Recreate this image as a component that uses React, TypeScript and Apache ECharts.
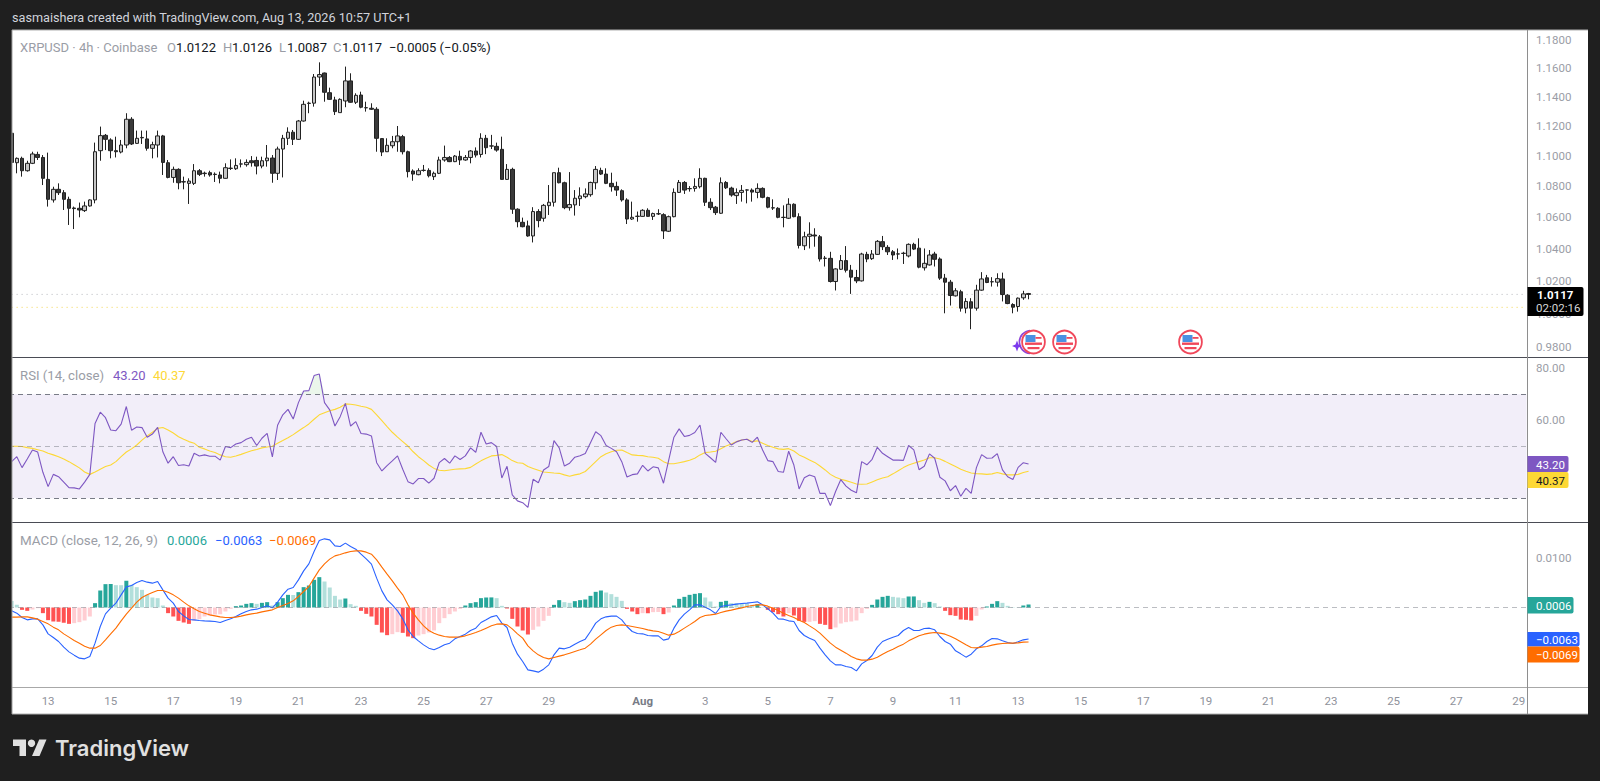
import React, { useEffect, useRef } from "react";
import * as echarts from "echarts";

const CHART_TITLE = "sasmaishera created with TradingView.com, Aug 13, 2026 10:57 UTC+1";
const PRICE_TICKS = [1.18, 1.16, 1.14, 1.12, 1.1, 1.08, 1.06, 1.04, 1.02, 1.0, 0.98];
const RSI_TICKS = [80, 60];
const MACD_TICKS = [0.01];
const TIME_LABELS = ["13","15","17","19","21","23","25","27","29","Aug","3","5","7","9","11","13","15","17","19","21","23","25","27","29"];
const TIME_LABEL_SLOTS = [7,19,31,43,55,67,79,91,103,121,133,145,157,169,181,193,205,217,229,241,253,265,277,289];
const SLOT_COUNT = 291;
const LAST_PRICE = 1.0117;
const DRAWN_LEVEL = 1.0038;

// [open, close, low, high]
const candlesA = [
[1.1153,1.0958,1.0952,1.1164],[1.0956,1.0985,1.0886,1.0991],[1.0985,1.0903,1.0864,1.0996],[1.0903,1.0952,1.0897,1.0969],[1.0952,1.1014,1.0947,1.1029],
[1.1011,1.0991,1.0974,1.1029],[1.0991,1.0853,1.0809,1.1007],[1.0846,1.0716,1.0669,1.1023],[1.0712,1.0781,1.0695,1.0798],[1.0781,1.0759,1.0744,1.0820],
[1.0759,1.0716,1.0647,1.0776],[1.0716,1.0658,1.0551,1.0733],[1.0660,1.0656,1.0525,1.0669],[1.0658,1.0647,1.0600,1.0695],[1.0643,1.0673,1.0634,1.0701],
[1.0673,1.0712,1.0669,1.0716],[1.0712,1.1029,1.0690,1.1090],[1.1036,1.1137,1.0969,1.1198],[1.1139,1.1112,1.1040,1.1148],[1.1108,1.1036,1.0985,1.1119],
[1.1036,1.1029,1.0991,1.1130],[1.1027,1.1074,1.1018,1.1108],[1.1074,1.1248,1.1052,1.1289],[1.1248,1.1081,1.1074,1.1262],[1.1085,1.1119,1.1081,1.1171],
[1.1125,1.1122,1.1081,1.1171],[1.1115,1.1052,1.1036,1.1171],[1.1052,1.1076,1.0985,1.1096],[1.1074,1.1135,1.0991,1.1171],[1.1135,1.0958,1.0875,1.1142],
[1.0956,1.0859,1.0853,1.0974],[1.0859,1.0912,1.0824,1.0930],[1.0912,1.0824,1.0781,1.0919],[1.0831,1.0829,1.0781,1.0864],[1.0820,1.0835,1.0686,1.0853],
[1.0820,1.0903,1.0809,1.0947],[1.0903,1.0879,1.0868,1.0914],[1.0887,1.0884,1.0864,1.0897],[1.0890,1.0875,1.0864,1.0903],[1.0880,1.0878,1.0829,1.0892],
[1.0875,1.0853,1.0820,1.0897],[1.0853,1.0923,1.0851,1.0952],[1.0920,1.0918,1.0908,1.0978],[1.0916,1.0938,1.0908,1.0985],[1.0948,1.0947,1.0925,1.0978],
[1.0943,1.0958,1.0930,1.0978],[1.0969,1.0956,1.0930,1.1000],[1.0971,1.0934,1.0879,1.0996],[1.0934,1.0969,1.0919,1.0996],[1.0969,1.0987,1.0930,1.1074],
[1.0987,1.0886,1.0824,1.1007],[1.0886,1.1047,1.0842,1.1063],[1.1047,1.1119,1.0859,1.1142],[1.1119,1.1160,1.1074,1.1193],[1.1160,1.1112,1.1074,1.1175],
[1.1112,1.1236,1.1108,1.1243],[1.1236,1.1350,1.1232,1.1375],[1.1358,1.1356,1.1289,1.1368],[1.1358,1.1539,1.1334,1.1560],[1.1539,1.1556,1.1477,1.1642],
[1.1567,1.1433,1.1368,1.1570],[1.1430,1.1384,1.1380,1.1465],[1.1380,1.1300,1.1277,1.1402],[1.1293,1.1384,1.1293,1.1391],[1.1373,1.1512,1.1330,1.1612],
[1.1512,1.1364,1.1361,1.1565],[1.1364,1.1412,1.1352,1.1426],[1.1414,1.1330,1.1323,1.1437],[1.1327,1.1326,1.1300,1.1368],[1.1323,1.1316,1.1311,1.1357],
[1.1316,1.1119,1.1029,1.1330],[1.1117,1.1027,1.1000,1.1119],[1.1029,1.1072,1.1027,1.1119],[1.1069,1.1096,1.1052,1.1135],[1.1096,1.1135,1.1029,1.1202],
];
const candlesB = [
[1.1130,1.1029,1.1011,1.1142],[1.1029,1.0897,1.0859,1.1036],[1.0901,1.0881,1.0837,1.0912],[1.0877,1.0903,1.0873,1.0919],[1.0906,1.0905,1.0897,1.0941],
[1.0905,1.0870,1.0859,1.0919],[1.0864,1.0886,1.0842,1.0897],[1.0886,1.0974,1.0881,1.0996],[1.0974,1.0991,1.0963,1.1070],[1.0991,1.0963,1.0960,1.1000],
[1.0963,1.1000,1.0960,1.1007],[1.0998,1.0974,1.0941,1.1036],[1.0974,1.0991,1.0969,1.1007],[1.0991,1.1034,1.0952,1.1040],[1.1034,1.1007,1.0991,1.1058],
[1.1011,1.1119,1.0991,1.1153],[1.1119,1.1056,1.1013,1.1142],[1.1068,1.1067,1.1047,1.1142],[1.1065,1.1040,1.1029,1.1090],[1.1045,1.0846,1.0846,1.1130],
[1.0846,1.0912,1.0842,1.0947],[1.0912,1.0652,1.0622,1.0923],[1.0652,1.0572,1.0536,1.0658],[1.0568,1.0540,1.0536,1.0598],[1.0545,1.0481,1.0476,1.0579],
[1.0481,1.0637,1.0440,1.0665],[1.0637,1.0579,1.0536,1.0652],[1.0594,1.0677,1.0572,1.0686],[1.0675,1.0697,1.0615,1.0809],[1.0697,1.0890,1.0669,1.0890],
[1.0890,1.0824,1.0820,1.0923],[1.0824,1.0662,1.0652,1.0831],[1.0662,1.0682,1.0643,1.0894],[1.0680,1.0723,1.0611,1.0776],[1.0720,1.0738,1.0673,1.0794],
[1.0733,1.0751,1.0723,1.0787],[1.0746,1.0826,1.0733,1.0831],[1.0824,1.0912,1.0781,1.0934],[1.0905,1.0881,1.0875,1.0923],[1.0881,1.0820,1.0815,1.0919],
[1.0820,1.0798,1.0766,1.0890],[1.0800,1.0776,1.0738,1.0831],[1.0772,1.0712,1.0701,1.0781],[1.0712,1.0589,1.0557,1.0723],[1.0589,1.0600,1.0583,1.0701],
[1.0607,1.0606,1.0572,1.0637],[1.0606,1.0645,1.0604,1.0652],[1.0645,1.0606,1.0604,1.0658],[1.0606,1.0624,1.0583,1.0630],[1.0623,1.0622,1.0615,1.0652],
[1.0617,1.0513,1.0462,1.0626],[1.0511,1.0604,1.0506,1.0611],[1.0604,1.0761,1.0600,1.0787],[1.0761,1.0826,1.0757,1.0842],[1.0826,1.0776,1.0751,1.0835],
[1.0786,1.0785,1.0766,1.0802],[1.0787,1.0800,1.0766,1.0853],[1.0798,1.0853,1.0787,1.0919],[1.0853,1.0697,1.0673,1.0857],[1.0697,1.0662,1.0647,1.0723],
[1.0665,1.0630,1.0615,1.0673],[1.0626,1.0824,1.0622,1.0859],[1.0826,1.0791,1.0783,1.0835],[1.0789,1.0744,1.0733,1.0798],[1.0740,1.0759,1.0686,1.0787],
[1.0761,1.0774,1.0701,1.0809],[1.0777,1.0776,1.0690,1.0781],[1.0776,1.0763,1.0701,1.0787],[1.0761,1.0787,1.0723,1.0820],[1.0787,1.0729,1.0723,1.0794],
[1.0727,1.0665,1.0658,1.0733],[1.0661,1.0660,1.0647,1.0716],[1.0658,1.0600,1.0594,1.0665],[1.0600,1.0599,1.0536,1.0677],[1.0594,1.0684,1.0589,1.0723],
[1.0684,1.0604,1.0600,1.0690],[1.0604,1.0421,1.0402,1.0626],
];
const candlesC = [
[1.0419,1.0476,1.0392,1.0508],[1.0479,1.0492,1.0402,1.0568],[1.0487,1.0481,1.0413,1.0530],[1.0476,1.0336,1.0320,1.0487],[1.0341,1.0340,1.0289,1.0355],
[1.0340,1.0196,1.0190,1.0381],[1.0196,1.0274,1.0141,1.0278],[1.0272,1.0326,1.0268,1.0361],[1.0326,1.0266,1.0252,1.0417],[1.0266,1.0223,1.0120,1.0299],
[1.0221,1.0200,1.0186,1.0268],[1.0200,1.0367,1.0196,1.0375],[1.0365,1.0336,1.0316,1.0381],[1.0338,1.0367,1.0330,1.0392],[1.0365,1.0447,1.0361,1.0455],
[1.0445,1.0413,1.0392,1.0481],[1.0409,1.0381,1.0361,1.0423],[1.0381,1.0361,1.0330,1.0392],[1.0368,1.0367,1.0334,1.0402],[1.0372,1.0371,1.0305,1.0381],
[1.0355,1.0428,1.0346,1.0434],[1.0428,1.0398,1.0392,1.0438],[1.0404,1.0285,1.0278,1.0466],[1.0281,1.0309,1.0264,1.0402],[1.0299,1.0361,1.0295,1.0392],
[1.0367,1.0334,1.0289,1.0381],[1.0336,1.0217,1.0206,1.0346],[1.0217,1.0192,1.0002,1.0243],[1.0192,1.0110,1.0049,1.0206],[1.0108,1.0139,1.0104,1.0155],
[1.0133,1.0033,1.0012,1.0145],[1.0033,1.0074,1.0002,1.0094],[1.0072,1.0033,0.9906,1.0094],[1.0033,1.0143,1.0018,1.0176],[1.0143,1.0212,1.0139,1.0254],
[1.0219,1.0190,1.0186,1.0237],[1.0195,1.0194,1.0165,1.0223],[1.0192,1.0214,1.0165,1.0247],[1.0212,1.0116,1.0074,1.0251],[1.0112,1.0061,1.0057,1.0118],
[1.0055,1.0039,1.0002,1.0063],[1.0043,1.0094,1.0012,1.0098],[1.0096,1.0120,1.0084,1.0139],[1.0122,1.0117,1.0087,1.0126],
];

const rsiValues = [
44.1,46.0,41.8,45.1,48.6,47.8,40.0,34.5,39.2,38.3,
36.2,34.1,34.0,33.6,36.2,39.2,58.8,63.1,61.0,56.3,
56.0,58.5,65.3,56.2,57.4,57.2,53.5,54.7,57.3,47.9,
43.5,46.0,42.6,42.9,42.4,47.3,46.3,46.7,46.2,46.2,
44.7,49.9,49.5,50.9,51.4,52.7,53.5,50.3,53.1,55.0,
45.9,58.1,62.1,64.2,60.5,66.8,71.3,71.4,77.2,77.8,
66.8,64.0,57.8,61.4,66.5,57.8,59.5,54.9,54.7,54.0,
43.7,40.5,42.6,44.4,46.3,41.2,36.4,35.5,37.6,37.6,
35.8,37.7,43.7,45.3,43.5,46.3,44.9,46.3,49.4,47.7,
55.4,50.9,51.4,49.9,37.8,42.3,31.3,29.0,28.3,26.5,
37.3,36.0,40.9,42.2,52.2,49.4,42.4,43.5,45.8,46.4,
47.2,51.4,55.6,54.1,50.3,49.2,47.9,44.1,38.2,39.1,
39.4,42.7,40.5,42.1,41.7,35.8,44.7,53.5,56.7,53.8,
54.2,55.3,58.2,47.3,45.6,43.8,55.4,52.9,50.5,51.7,
52.4,52.7,51.5,53.5,48.6,44.5,44.1,40.3,40.0,48.1,
42.8,33.6,37.9,39.0,38.3,31.9,31.9,27.2,32.6,37.2,
34.7,33.1,32.1,44.1,42.9,45.0,49.6,47.3,46.0,44.7,
44.7,44.6,50.3,48.6,41.0,42.3,47.1,45.4,38.1,36.7,
32.9,34.9,30.8,33.8,31.9,41.8,46.8,45.4,45.5,47.2,
40.9,38.3,37.2,41.9,43.7,43.2,
];
const rsiAverage = [
50.0,50.0,49.9,49.5,49.2,48.7,48.2,47.3,46.7,46.0,
45.1,44.1,42.9,41.7,40.1,39.2,40.1,41.2,42.2,42.8,
44.1,46.0,47.8,49.0,50.5,52.4,54.0,55.4,56.9,57.2,
56.3,55.1,53.7,52.7,51.8,51.2,49.6,49.0,48.2,47.6,
46.7,46.0,45.8,46.3,46.9,47.6,48.3,48.8,49.4,49.7,
50.0,51.2,52.2,53.3,54.5,55.9,57.2,58.6,60.4,62.1,
62.9,63.7,64.2,65.0,66.3,66.2,65.9,65.4,65.0,64.2,
62.1,59.9,57.6,55.4,53.5,51.8,50.1,47.9,46.0,44.5,
42.8,41.5,40.8,40.6,40.9,41.2,41.3,41.4,41.9,43.2,
44.4,45.4,46.3,46.5,46.8,45.8,44.5,43.7,43.5,42.2,
41.5,40.8,40.1,39.9,39.7,39.6,39.0,38.5,39.0,39.4,
40.3,42.2,44.1,46.0,47.1,47.9,48.5,48.6,47.6,46.7,
46.5,46.4,46.0,45.8,45.4,44.1,43.3,43.3,43.7,44.1,
44.6,45.4,46.7,47.6,47.8,48.1,49.1,50.1,50.9,51.8,
52.4,52.7,51.8,52.1,51.2,50.3,49.6,49.0,48.8,49.1,
48.2,46.7,45.8,44.7,43.8,42.4,40.9,39.2,38.1,37.3,
36.8,36.2,35.5,35.4,35.5,36.3,37.1,37.8,38.3,39.4,
40.6,41.8,42.8,43.5,44.1,44.7,45.6,45.6,45.1,44.2,
43.2,42.2,41.2,40.4,39.7,39.5,39.4,39.2,39.4,39.9,
39.4,39.0,39.0,39.2,39.9,40.37,
];

// MACD pane values, in units of 0.0001
const histogram = [
13,5.3,-4.7,-6.7,-4,-1.3,-11.3,-25.3,-28,-28.5,
-30.7,-32.7,-31.3,-29.3,-26,-18,8.7,34,46.7,47,
44.7,44.6,53.3,45.3,40.7,35.3,25.3,20,18.7,4,
-11.3,-18,-26.7,-30,-32.7,-26.7,-23.3,-18,-16.7,-14,
-13.5,-8,-2.7,2.7,4,7.3,8.7,7.3,9.3,10.7,
4,10.7,18.7,25.3,25,30.7,40.7,44,55.3,60.7,
52,40,23.3,16,18,6.7,3.3,-6.7,-12.7,-18,
-34.7,-50,-55.3,-53.3,-49.3,-50.7,-58,-61.3,-56,-53.3,
-50,-46,-31.3,-21.3,-13.3,-8,-2.7,4,8.7,10.7,
18.7,20,20.2,18.7,3.3,-2,-22.7,-38,-46,-54,
-44.7,-38,-26.7,-16.7,5.3,14.7,10.7,9.3,12.7,14.7,
16,23.3,31.3,34,30,26.7,21.3,13.3,-2.7,-8,
-13.3,-11.3,-11.5,-9.3,-9,-13.3,-10,4,17.3,21.3,
25.3,27.3,28.7,20,12,2,11.3,13.3,8.7,8.6,
8.5,8,5.3,6.7,0.5,-4.7,-9.3,-13.3,-18,-11.3,
-16,-26.7,-28.7,-28.6,-27.3,-32.7,-34.7,-43.3,-40,-32,
-29.3,-28,-26,-11.3,-2.7,5.3,16,21.3,23.3,21.3,
20,18.7,22,22.1,14.7,9.3,11.3,8.7,2,-6.7,
-15.3,-16.7,-24,-24.7,-26,-16.7,-4,2,7.3,12.7,
9.3,3.3,0.7,0.5,4,6,
];
const macdLine = [
-6.7,-11.3,-20,-24.7,-22.7,-22.7,-34.7,-52.7,-60,-68,
-79.3,-88.7,-95.3,-101.3,-102.7,-98,-71.3,-38,-12.7,-1.3,
8.7,25.3,41.3,44,50,54,50.7,48.7,52,35.3,
18.7,8.7,-8,-16.7,-24,-24.7,-26,-26.7,-27.3,-28,
-30,-26,-22.7,-18,-12.7,-8,-4.7,-3.3,0,3.3,
-0.7,10.7,25.3,36.7,40,55.3,73.3,87.3,112,134,
137.3,135.3,123.3,122,128.7,122,116.7,106.7,97.3,86.7,
58.7,33.3,15.3,5.3,-6.7,-22.7,-44.7,-58,-66.7,-74.7,
-81.3,-84.7,-80,-74.7,-71.3,-62.7,-58,-53.3,-46,-41.3,
-30,-24.7,-18.7,-16,-31.3,-40,-71.3,-93.3,-108,-124.7,
-126.7,-129.3,-123.3,-114.7,-94.7,-81.3,-82.7,-79.3,-73.3,-68,
-63.3,-48,-31.3,-22.7,-18.7,-17.3,-17.3,-24.7,-38,-48,
-52,-52.7,-56,-56.7,-56.7,-65.3,-62.7,-41.3,-24.7,-13.3,
-4.7,5.3,5.3,0.7,-4.7,-12,2,4,5.3,6.7,
8,8.7,10,11.3,5.3,-2.7,-11.3,-22.7,-23.3,-26.7,
-28,-46,-56,-61.3,-66,-81.3,-94.7,-106.7,-114.7,-114.7,
-118,-120,-126.7,-112.7,-106,-96,-79.3,-68,-63.3,-59.3,
-56,-46,-40,-46,-46,-42,-41.3,-44.7,-58,-68,
-73.3,-86.7,-92.7,-99.3,-93.3,-82.7,-76.7,-68,-62,-62.7,
-66.7,-70,-72,-68.7,-64.7,-63,
];
const signalLine = [
-19.3,-19.3,-18.7,-18.7,-20.7,-23.3,-28,-32.7,-39.3,-44.7,
-52.7,-59.3,-66,-71.3,-77.3,-81.3,-81.3,-76,-64.7,-52.7,
-41.3,-26.7,-13.3,-1.3,10.7,20,25.3,30,34,34,
30.7,25.3,18.7,10.7,3.3,-2.7,-8,-11.3,-14.7,-16.7,
-18.7,-20,-20,-19.3,-17.3,-14.7,-12.7,-11.3,-8.7,-6.7,
-4.7,0,4,8,13.3,22,32,42,58.7,75.3,
87.3,96.7,103.3,106,109.3,112,113.3,113.3,110.7,106.7,
95.3,80.7,66.7,53.3,38.7,25.3,5.3,-11.3,-24.7,-36.7,
-46,-51.3,-55.3,-58,-59.3,-59.3,-58.7,-56.7,-53.3,-50,
-46,-41.3,-36.7,-33.3,-32.7,-34.7,-42.7,-52.7,-61.3,-76.7,
-86.7,-94.7,-100,-102.7,-100,-97.3,-94.7,-91.3,-88,-84.7,
-81.3,-73.3,-63.3,-54.7,-46,-39.3,-36,-34.7,-36,-38,
-40,-42,-44.7,-46.7,-48,-51.3,-55.3,-53.3,-48,-41.3,
-34.7,-28,-20,-16,-14.7,-13.3,-10,-7.3,-5.3,-2.7,
-0.7,2,4,5.3,5.3,2.7,-1.3,-6,-11.3,-16,
-20,-25.3,-30,-36.7,-43.3,-51.3,-61.3,-71.3,-79.3,-85.3,
-91.3,-98,-102.7,-105.3,-105.3,-103.3,-99.3,-93.3,-88,-83.3,
-78,-73.3,-66.7,-61.3,-56.7,-53.3,-51.3,-50,-51.3,-53.3,
-57.3,-62.7,-68.7,-74.7,-80,-80.7,-79.3,-78,-75.3,-73.3,
-72,-71.3,-71.3,-70.7,-69.3,-69,
];

const FONT = "Roboto, 'Noto Sans', sans-serif";
const DARK = "#1f1f1f";
const GRAY = "#9a9da6";
const INK = "#131722";
const GRID_LEFT = 9;
const GRID_W = 1517.6;

const categories = Array.from({ length: SLOT_COUNT }, (_, i) => String(i));
const slotLabel: Record<string, string> = {};
TIME_LABEL_SLOTS.forEach((s, i) => { slotLabel[String(s)] = TIME_LABELS[i]; });

function txt(x: number, y: number, text: string, fill: string, size = 13, extra: any = {}) {
  return {
    type: "text", x, y, z: 60, silent: true,
    style: { text, fill, font: `${extra.weight || "normal"} ${size}px ${extra.family || FONT}`, verticalAlign: "middle", textAlign: extra.align || "left" },
  };
}
function hline(x1: number, x2: number, y: number, stroke: string, w = 1) {
  return { type: "line", z: 55, silent: true, shape: { x1, y1: y, x2, y2: y }, style: { stroke, lineWidth: w } };
}
function tag(y: number, h: number, w: number, color: string, text: string, fg: string) {
  return [
    { type: "rect", z: 58, silent: true, shape: { x: 1527.5, y, width: w, height: h, r: [0, 2, 2, 0] }, style: { fill: color } },
    txt(1536, y + h / 2 + 0.5, text, fg, 11.5),
  ];
}
function flag(cx: number, cy: number) {
  const kids: any[] = [
    { type: "circle", shape: { cx, cy, r: 11.4 }, style: { fill: "#fff", stroke: "#f0475a", lineWidth: 1.8 } },
    { type: "rect", shape: { x: cx - 8.5, y: cy + 0.5, width: 17, height: 2.4 }, style: { fill: "#f0475a" } },
    { type: "rect", shape: { x: cx - 6, y: cy + 5, width: 12, height: 2.2 }, style: { fill: "#f0475a" } },
    { type: "rect", shape: { x: cx - 8, y: cy - 7, width: 10, height: 7 }, style: { fill: "#4a90e2" } },
    { type: "rect", shape: { x: cx + 2, y: cy - 5, width: 6, height: 1.8 }, style: { fill: "#f0475a" } },
  ];
  return { type: "group", z: 57, silent: true, children: kids.map((k) => ({ ...k, z: 57 })) };
}

function buildGraphics() {
  const els: any[] = [
    { type: "rect", z: -10, silent: true, shape: { x: 12, y: 30, width: 1576, height: 684 }, style: { fill: "#ffffff" } },
    { type: "rect", z: 50, silent: true, shape: { x: 0, y: 0, width: 12, height: 781 }, style: { fill: DARK } },
    hline(12, 1588, 30, "#b0b0b0"),
    hline(12, 1588, 357.5, "#4a4c55", 1.2),
    hline(12, 1588, 522.5, "#4a4c55", 1.2),
    hline(12, 1588, 687.5, "#a8a8a8", 1.2),
    hline(12, 1588, 714, "#b0b0b0"),
    { type: "line", z: 55, silent: true, shape: { x1: 1527.5, y1: 30, x2: 1527.5, y2: 714 }, style: { stroke: "#8e8e8e", lineWidth: 1 } },
    { type: "line", z: 55, silent: true, shape: { x1: 12, y1: 30, x2: 12, y2: 714 }, style: { stroke: "#a0a0a0", lineWidth: 1 } },

    txt(12, 17.5, CHART_TITLE, "#d1d4dc", 12.65),

    txt(20, 47.5, "XRPUSD · 4h · Coinbase", GRAY, 13),
    txt(167, 47.5, "O", GRAY, 13), txt(176, 47.5, "1.0122", INK, 13),
    txt(223, 47.5, "H", GRAY, 13), txt(232, 47.5, "1.0126", INK, 13),
    txt(279, 47.5, "L", GRAY, 13), txt(287, 47.5, "1.0087", INK, 13),
    txt(333, 47.5, "C", GRAY, 13), txt(342, 47.5, "1.0117", INK, 13),
    txt(389, 47.5, "−0.0005 (−0.05%)", INK, 13),

    txt(20, 375, "RSI (14, close)", GRAY, 13.2),
    txt(113, 375, "43.20", "#7e57c2", 13),
    txt(153, 375, "40.37", "#fdd835", 13),

    txt(20, 540, "MACD (close, 12, 26, 9)", GRAY, 13.4),
    txt(167, 540, "0.0006", "#26a69a", 13),
    txt(215, 540, "−0.0063", "#2962ff", 13),
    txt(269, 540, "−0.0069", "#ff6d00", 13),

    { type: "rect", z: 58, silent: true, shape: { x: 1527.5, y: 287, width: 56, height: 29, r: [0, 2, 2, 0] }, style: { fill: "#000" } },
    txt(1537, 295, "1.0117", "#ffffff", 11.5, { weight: "bold" }),
    txt(1536, 308, "02:02:16", "#d8d8d8", 11.5),
    ...tag(456, 16, 41, "#7e57c2", "43.20", "#ffffff"),
    ...tag(472, 16, 41, "#fdd835", "40.37", "#131722"),
    ...tag(597, 16.5, 46, "#26a69a", "0.0006", "#ffffff"),
    ...tag(632, 14.5, 52, "#2962ff", "−0.0063", "#ffffff"),
    ...tag(646.5, 16, 52, "#ff6d00", "−0.0069", "#ffffff"),

    { type: "arc", z: 56, silent: true, shape: { cx: 1031, cy: 342, r: 11.6, startAngle: (Math.PI * 95) / 180, endAngle: (Math.PI * 265) / 180 }, style: { stroke: "#8e44d8", lineWidth: 1.6, fill: "none" } },
    flag(1033.5, 342), flag(1064.5, 342), flag(1190.5, 342),
    { type: "polygon", z: 58, silent: true, shape: { points: [[1017, 340.5], [1018.5, 344.5], [1022, 346], [1018.5, 347.5], [1017, 351.5], [1015.5, 347.5], [1012, 346], [1015.5, 344.5]] }, style: { fill: "#7c3aed" } },

    { type: "polygon", z: 60, silent: true, shape: { points: [[13, 739.5], [26, 739.5], [26, 756], [19.5, 756], [19.5, 746], [13, 746]] }, style: { fill: "#e0e0e0" } },
    { type: "polygon", z: 60, silent: true, shape: { points: [[39.2, 739.5], [46.5, 739.5], [39.5, 756], [32, 756]] }, style: { fill: "#e0e0e0" } },
    { type: "circle", z: 60, silent: true, shape: { cx: 31.5, cy: 743.2, r: 3.7 }, style: { fill: "#e0e0e0" } },
    txt(55, 747.5, "TradingView", "#e0e0e0", 22, { weight: "600", family: "Inter, Roboto, sans-serif" }),
  ];
  return els;
}

export default function App() {
  const ref = useRef<HTMLDivElement>(null);
  useEffect(() => {
    document.body.style.margin = "0";
    const chart = echarts.init(ref.current!, undefined, { renderer: "svg" });
    const candles = [...candlesA, ...candlesB, ...candlesC];
    const obBase = rsiValues.map((v, i) => (v > 70 || rsiValues[i - 1] > 70 || rsiValues[i + 1] > 70 ? 70 : null));
    const obFill = rsiValues.map((v, i) => (obBase[i] === null ? null : Math.max(v - 70, 0)));
    const grid = (top: number, height: number) => ({ left: GRID_LEFT, width: GRID_W, top, height, containLabel: false });
    const xAxis = (gridIndex: number, labels: boolean) => ({
      type: "category", gridIndex, data: categories, boundaryGap: true,
      axisLine: { show: false }, axisTick: { show: false }, splitLine: { show: false },
      axisLabel: labels ? {
        show: true, margin: 8, color: "#8f929b", fontFamily: FONT, fontSize: 11.5,
        interval: (i: number) => slotLabel[String(i)] !== undefined,
        formatter: (v: string) => (slotLabel[v] === "Aug" ? "{b|Aug}" : slotLabel[v] || ""),
        rich: { b: { color: "#787b86", fontWeight: "bold", fontFamily: FONT, fontSize: 11.5 } },
      } : { show: false },
    });
    const yBase = {
      position: "right", axisLine: { show: false }, axisTick: { show: false }, splitLine: { show: false },
    };
    const labelBase = { show: true, inside: false, margin: 9.5, color: "#9a9da6", fontFamily: FONT, fontSize: 11.5, align: "left" };
    const flatLine = (v: number) => categories.map(() => v);
    chart.setOption({
      animation: false,
      backgroundColor: DARK,
      graphic: { elements: buildGraphics() },
      grid: [grid(30, 327), grid(357, 165), grid(522, 165)],
      xAxis: [xAxis(0, false), xAxis(1, false), xAxis(2, true)],
      yAxis: [
        { ...yBase, type: "log", logBase: 10, gridIndex: 0, min: 0.97409, max: 1.1872,
          axisLabel: { ...labelBase, customValues: PRICE_TICKS, formatter: (v: number) => v.toFixed(4) } },
        { ...yBase, type: "value", gridIndex: 1, min: 20.88, max: 84.35,
          axisLabel: { ...labelBase, customValues: RSI_TICKS, formatter: (v: number) => v.toFixed(2) } },
        { ...yBase, type: "value", gridIndex: 2, min: -0.0159, max: 0.0171,
          axisLabel: { ...labelBase, customValues: MACD_TICKS, formatter: (v: number) => v.toFixed(4) } },
      ],
      series: [
        { name: "Last price", type: "line", xAxisIndex: 0, yAxisIndex: 0, data: flatLine(LAST_PRICE), showSymbol: false, silent: true, z: 1,
          lineStyle: { color: "#b4b6bc", type: [1, 4], width: 1 } },
        { name: "Drawn level", type: "line", xAxisIndex: 0, yAxisIndex: 0, data: flatLine(DRAWN_LEVEL), showSymbol: false, silent: true, z: 1,
          lineStyle: { color: "#f2d44e", type: [1, 4], width: 1 } },
        {
          type: "candlestick", xAxisIndex: 0, yAxisIndex: 0, data: candles, barWidth: 4, silent: true,
          itemStyle: { color: "#c6c6c6", color0: "#3a3a3a", borderColor: "#222222", borderColor0: "#222222", borderWidth: 1 },
        },
        {
          name: "RSI", type: "line", xAxisIndex: 1, yAxisIndex: 1, data: rsiValues, showSymbol: false, silent: true, z: 4,
          lineStyle: { color: "#7e57c2", width: 1.1 },
          markArea: { silent: true, itemStyle: { color: "rgba(126,87,194,0.1)" }, data: [[{ yAxis: 70 }, { yAxis: 30 }]] },
          markLine: {
            silent: true, symbol: "none", label: { show: false },
            data: [
              { yAxis: 70, lineStyle: { color: "#787b86", type: [5, 4], width: 1 } },
              { yAxis: 50, lineStyle: { color: "rgba(120,123,134,0.5)", type: [5, 4], width: 1 } },
              { yAxis: 30, lineStyle: { color: "#787b86", type: [5, 4], width: 1 } },
            ],
          },
        },
        { type: "line", stack: "ob", xAxisIndex: 1, yAxisIndex: 1, data: obBase, showSymbol: false, silent: true, lineStyle: { opacity: 0 }, z: 2 },
        { type: "line", stack: "ob", xAxisIndex: 1, yAxisIndex: 1, data: obFill, showSymbol: false, silent: true, lineStyle: { opacity: 0 }, z: 2,
          areaStyle: { color: "rgba(76,175,80,0.16)" } },
        { name: "RSI MA", type: "line", xAxisIndex: 1, yAxisIndex: 1, data: rsiAverage, showSymbol: false, silent: true, z: 3,
          lineStyle: { color: "#fdd835", width: 1.1 } },
        {
          name: "Histogram", type: "bar", xAxisIndex: 2, yAxisIndex: 2, barWidth: 4, silent: true,
          data: histogram.map((v) => v / 10000),
          itemStyle: {
            color: (p: any) => {
              const i = p.dataIndex;
              const v = histogram[i];
              const prev = i > 0 ? histogram[i - 1] : Infinity;
              if (v >= 0) return v >= prev ? "#26a69a" : "#b2dfdb";
              return v < prev ? "#ff5252" : "#ffcdd2";
            },
          },
          markLine: {
            silent: true, symbol: "none", label: { show: false },
            data: [{ yAxis: 0, lineStyle: { color: "rgba(120,123,134,0.5)", type: [5, 4], width: 1 } }],
          },
        },
        { name: "MACD", type: "line", xAxisIndex: 2, yAxisIndex: 2, data: macdLine.map((v) => v / 10000), showSymbol: false, silent: true, z: 4,
          lineStyle: { color: "#2962ff", width: 1.1 } },
        { name: "Signal", type: "line", xAxisIndex: 2, yAxisIndex: 2, data: signalLine.map((v) => v / 10000), showSymbol: false, silent: true, z: 5,
          lineStyle: { color: "#ff6d00", width: 1.1 } },
      ],
    });
    return () => chart.dispose();
  }, []);
  return <div ref={ref} style={{ position: "absolute", left: 0, top: 0, width: 1600, height: 781 }} />;
}
